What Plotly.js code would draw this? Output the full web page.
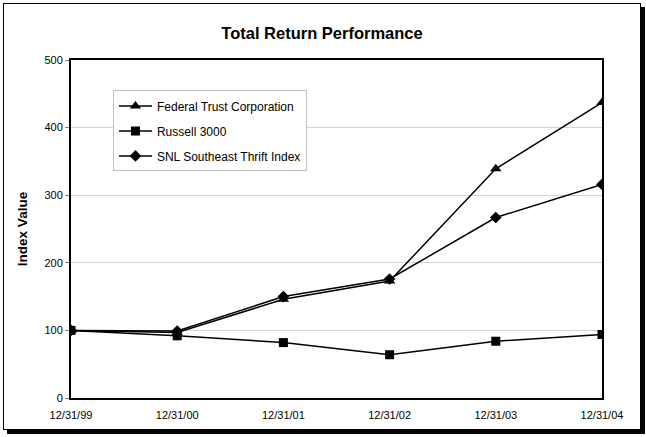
<!DOCTYPE html>
<html>
<head>
<meta charset="utf-8">
<script src="https://cdn.plot.ly/plotly-3.0.1.min.js"></script>
<style>
  body { margin: 0; background: #fff; }
  #chart {
    position: absolute; left: 3px; top: 3px;
    width: 636px; height: 425px;
    border: 1px solid #000;
    box-shadow: 4px 4px 0 #000;
  }
</style>
</head>
<body>
<div id="chart"></div>
<script>
// fechas de corte y valores del indice
const dates = ["12/31/99", "12/31/00", "12/31/01", "12/31/02", "12/31/03", "12/31/04"];
const federalTrust = [100, 97, 146, 173, 339, 437];
const russell3000 = [100, 92, 82, 64, 84, 94];
const snlSoutheast = [100, 99, 150, 176, 267, 316];

function serie(name, y, symbol, size, group) {
  return {
    type: "scatter",
    mode: "lines+markers",
    name: name,
    x: dates,
    y: y,
    legendgroup: group,
    line: { color: "#000", width: 1.5 },
    marker: { color: "#000", symbol: symbol, size: size },
  };
}

const data = [
  serie("Federal Trust Corporation", federalTrust, "triangle-up", 10, "a"),
  serie("Russell 3000", russell3000, "square", 9, "b"),
  serie("SNL Southeast Thrift Index", snlSoutheast, "diamond", 9, "c"),
];

const layout = {
  width: 636,
  height: 425,
  margin: { l: 67, r: 38, t: 56, b: 31 },
  paper_bgcolor: "#fff",
  plot_bgcolor: "#fff",
  font: { family: "Liberation Sans, Arial, sans-serif", color: "#000", size: 11 },
  title: {
    text: "<b>Total Return Performance</b>",
    font: { size: 16.5 },
    x: 0.5,
    xref: "container",
    xanchor: "center",
    y: 1 - 29 / 425,
    yref: "container",
    yanchor: "middle",
  },
  showlegend: true,
  legend: {
    x: 0.079,
    y: 0.91,
    xanchor: "left",
    yanchor: "top",
    bgcolor: "#fff",
    bordercolor: "#c0c0c0",
    borderwidth: 1,
    font: { size: 12 },
    itemwidth: 33,
    tracegroupgap: 6,
  },
  xaxis: {
    type: "category",
    range: [0, 5],
    showgrid: false,
    showline: true,
    linecolor: "#000",
    linewidth: 2,
    mirror: true,
    ticks: "outside",
    ticklen: 6,
    tickcolor: "rgba(0,0,0,0)",
    zeroline: false,
  },
  yaxis: {
    range: [0, 500],
    dtick: 100,
    showgrid: true,
    gridcolor: "#d4d4d4",
    gridwidth: 1,
    showline: true,
    linecolor: "#000",
    linewidth: 2,
    mirror: true,
    ticks: "outside",
    ticklen: 4,
    tickcolor: "#808080",
    zeroline: false,
    title: { text: "<b>Index Value</b>", font: { size: 13.5 }, standoff: 14 },
  },
};

Plotly.newPlot("chart", data, layout, { displayModeBar: false, staticPlot: true });
</script>
</body>
</html>
